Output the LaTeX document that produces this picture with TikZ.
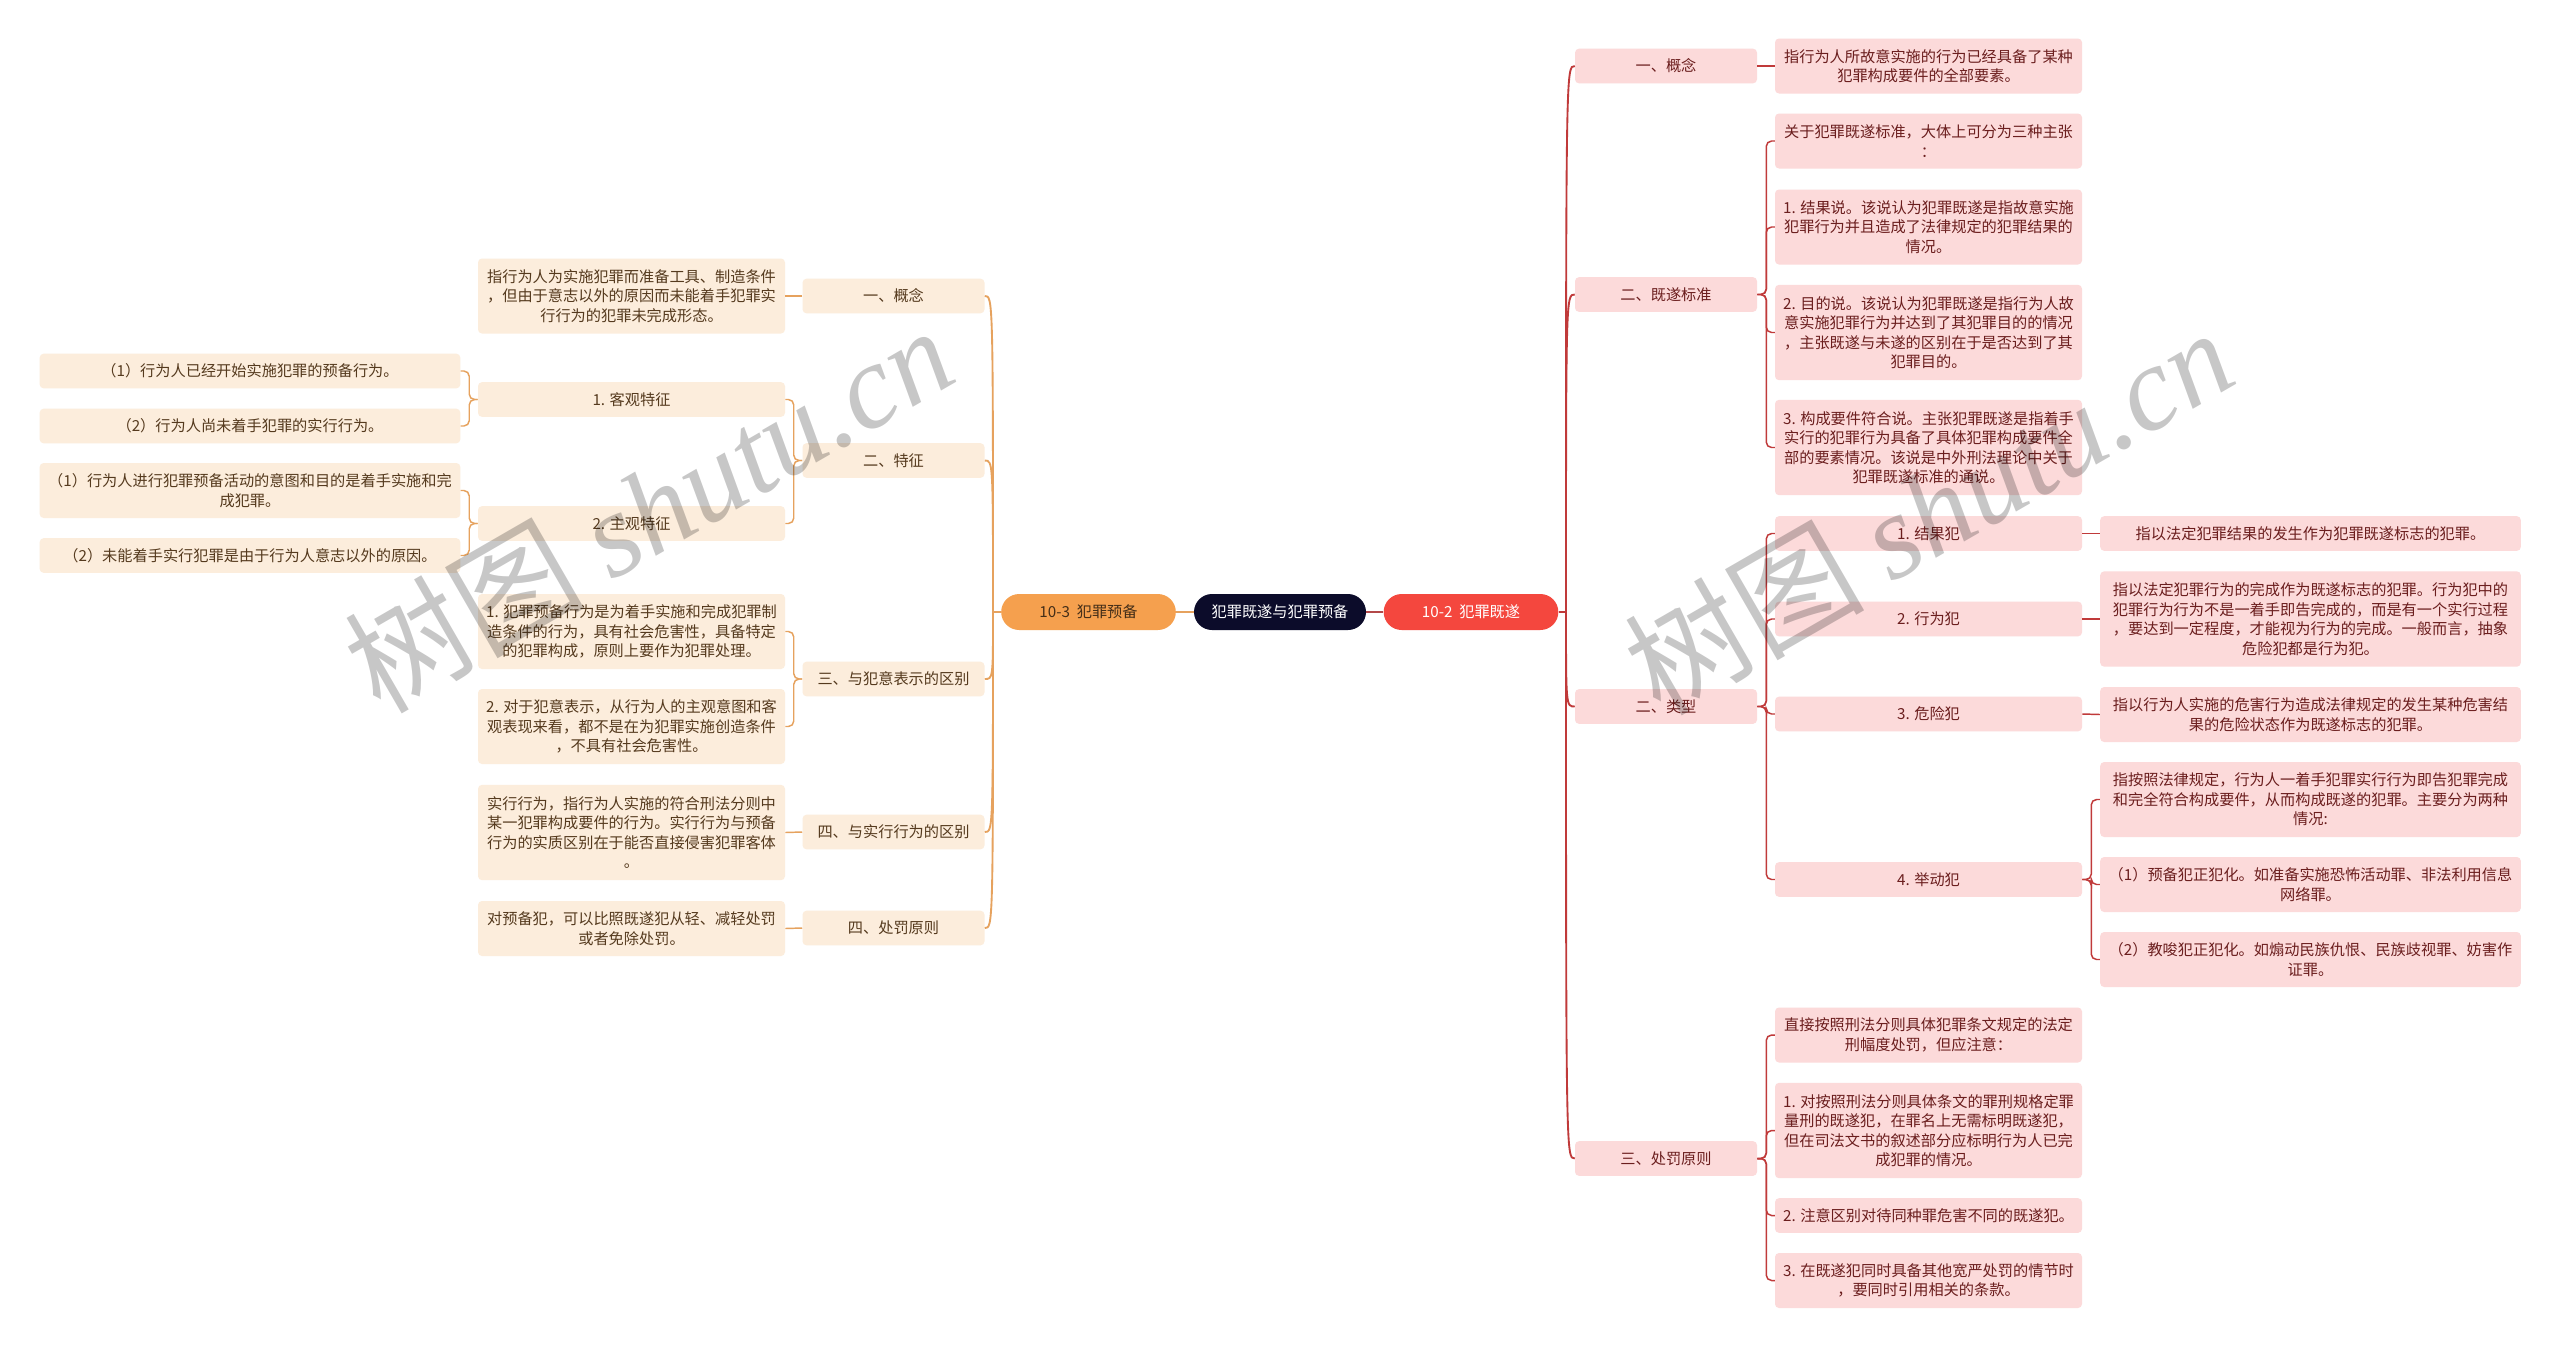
\documentclass[tikz,border=0pt]{standalone}
\usepackage{fontspec}
\setmainfont{Noto Sans CJK SC}
\newfontfamily\wmlatin{Liberation Serif}
\newfontfamily\wmcjk{Noto Sans CJK SC}
\newcommand\fs{\fontsize{11.4pt}{14.6pt}\selectfont}
\definecolor{lfill}{HTML}{FCEDDC}
\definecolor{ltext}{HTML}{553A1E}
\definecolor{lcol}{HTML}{E6A25E}
\definecolor{rfill}{HTML}{FCDADA}
\definecolor{rtext}{HTML}{6B1E1E}
\definecolor{rcol}{HTML}{C03A3A}
\definecolor{navy}{HTML}{0C0C2A}
\definecolor{orng}{HTML}{F5A04E}
\definecolor{redn}{HTML}{F4473E}
\tikzset{
  lbox/.style={fill=lfill, text=ltext, rounded corners=3pt, inner sep=0pt, align=center, font=\fs},
  rbox/.style={fill=rfill, text=rtext, rounded corners=3pt, inner sep=0pt, align=center, font=\fs},
  wa/.style={minimum width=136.5pt},
  wb/.style={minimum width=230.25pt},
  wc/.style={minimum width=315.5pt},
  ha/.style={minimum height=26pt},
  hb/.style={minimum height=41.25pt},
  hc/.style={minimum height=56.25pt},
  hd/.style={minimum height=71.5pt},
  pill/.style={rounded corners=13.5pt, minimum height=27pt, inner sep=0pt, align=center, font=\fs},
  ll/.style={draw=lcol, line width=1.1pt, rounded corners=4pt},
  rl/.style={draw=rcol, line width=1.1pt, rounded corners=4pt},
  lsp/.style={draw=lcol, line width=1.4pt},
  rsp/.style={draw=rcol, line width=1.4pt},
  wmark/.style={rotate=30, text=black, opacity=0.22, inner sep=0pt}
}
\newcommand\lbr[2]{\draw[ll] (#1.west) -- ++(-8.5,0) |- (#2.east);}
\newcommand\rbr[2]{\draw[rl] (#1.east) -- ++(9,0) |- (#2.west);}
\begin{document}
\begin{tikzpicture}[x=0.75pt,y=-0.75pt]
\useasboundingbox[fill=white] (0,0) rectangle (2560,1347);

% central
\node[pill, fill=navy, text=white, minimum width=129pt] (root) at (1280,612) {犯罪既遂与犯罪预备};
\node[pill, fill=orng, text=ltext!80!black, minimum width=131pt] (prep) at (1088.5,612) {10-3\ \ 犯罪预备};
\node[pill, fill=redn, text=white, minimum width=131pt] (acc) at (1471,612) {10-2\ \ 犯罪既遂};
\draw[draw=lcol, line width=1pt] (prep.east) -- (root.west);
\draw[draw=rcol!80!gray, line width=1pt] (root.east) -- (acc.west);

% ---------- left side ----------
\node[lbox, wa, ha] (LA) at (893.5,296) {一、概念};
\node[lbox, wa, ha] (LB) at (893.5,460.5) {二、特征};
\node[lbox, wa, ha] (LC) at (893.5,679) {三、与犯意表示的区别};
\node[lbox, wa, ha] (LD) at (893.5,832) {四、与实行行为的区别};
\node[lbox, wa, ha] (LE) at (893.5,928) {四、处罚原则};

\node[lbox, wb, hc] (LA1) at (631.5,296) {指行为人为实施犯罪而准备工具、制造条件\\，但由于意志以外的原因而未能着手犯罪实\\行行为的犯罪未完成形态。};
\node[lbox, wb, ha] (LB1) at (631.5,399.5) {1. 客观特征};
\node[lbox, wb, ha] (LB2) at (631.5,523.5) {2. 主观特征};
\node[lbox, wb, hc] (LC1) at (631.5,631.5) {1. 犯罪预备行为是为着手实施和完成犯罪制\\造条件的行为，具有社会危害性，具备特定\\的犯罪构成，原则上要作为犯罪处理。};
\node[lbox, wb, hc] (LC2) at (631.5,726.5) {2. 对于犯意表示，从行为人的主观意图和客\\观表现来看，都不是在为犯罪实施创造条件\\，不具有社会危害性。};
\node[lbox, wb, hd] (LD1) at (631.5,832.5) {实行行为，指行为人实施的符合刑法分则中\\某一犯罪构成要件的行为。实行行为与预备\\行为的实质区别在于能否直接侵害犯罪客体\\。};
\node[lbox, wb, hb] (LE1) at (631.5,928.5) {对预备犯，可以比照既遂犯从轻、减轻处罚\\或者免除处罚。};

\node[lbox, wc, ha] (LB1a) at (250,371) {（1）行为人已经开始实施犯罪的预备行为。};
\node[lbox, wc, ha] (LB1b) at (250,426) {（2）行为人尚未着手犯罪的实行行为。};
\node[lbox, wc, hb] (LB2a) at (250,490.5) {（1）行为人进行犯罪预备活动的意图和目的是着手实施和完\\成犯罪。};
\node[lbox, wc, ha] (LB2b) at (250,555.5) {（2）未能着手实行犯罪是由于行为人意志以外的原因。};

\coordinate (Lsp) at (993,612);
\draw[lsp] (prep.west) -- (Lsp);
\foreach \n in {LA,LB,LC,LD,LE}
  \draw[lsp] (Lsp) .. controls (Lsp |- \n.east) .. (\n.east);
\draw[ll] (LA.west) -- (LA1.east);
\lbr{LB}{LB1}
\lbr{LB}{LB2}
\lbr{LB1}{LB1a}
\lbr{LB1}{LB1b}
\lbr{LB2}{LB2a}
\lbr{LB2}{LB2b}
\lbr{LC}{LC1}
\lbr{LC}{LC2}
\draw[ll] (LD.west) -- (LD1.east);
\draw[ll] (LE.west) -- (LE1.east);

% ---------- right side ----------
\node[rbox, wa, ha] (RA) at (1666,66) {一、概念};
\node[rbox, wa, ha] (RB) at (1666,294.5) {二、既遂标准};
\node[rbox, wa, ha] (RC) at (1666,706.5) {二、类型};
\node[rbox, wa, ha] (RD) at (1666,1158.5) {三、处罚原则};

\node[rbox, wb, hb] (RA1) at (1928.5,66) {指行为人所故意实施的行为已经具备了某种\\犯罪构成要件的全部要素。};
\node[rbox, wb, hb] (RB1) at (1928.5,141) {关于犯罪既遂标准，大体上可分为三种主张\\：};
\node[rbox, wb, hc] (RB2) at (1928.5,227) {1. 结果说。该说认为犯罪既遂是指故意实施\\犯罪行为并且造成了法律规定的犯罪结果的\\情况。};
\node[rbox, wb, hd] (RB3) at (1928.5,332.5) {2. 目的说。该说认为犯罪既遂是指行为人故\\意实施犯罪行为并达到了其犯罪目的的情况\\，主张既遂与未遂的区别在于是否达到了其\\犯罪目的。};
\node[rbox, wb, hd] (RB4) at (1928.5,447.5) {3. 构成要件符合说。主张犯罪既遂是指着手\\实行的犯罪行为具备了具体犯罪构成要件全\\部的要素情况。该说是中外刑法理论中关于\\犯罪既遂标准的通说。};
\node[rbox, wb, ha] (RC1) at (1928.5,533.5) {1. 结果犯};
\node[rbox, wb, ha] (RC2) at (1928.5,619) {2. 行为犯};
\node[rbox, wb, ha] (RC3) at (1928.5,714) {3. 危险犯};
\node[rbox, wb, ha] (RC4) at (1928.5,879.5) {4. 举动犯};
\node[rbox, wb, hb] (RD1) at (1928.5,1035) {直接按照刑法分则具体犯罪条文规定的法定\\刑幅度处罚，但应注意：};
\node[rbox, wb, hd] (RD2) at (1928.5,1130.5) {1. 对按照刑法分则具体条文的罪刑规格定罪\\量刑的既遂犯，在罪名上无需标明既遂犯，\\但在司法文书的叙述部分应标明行为人已完\\成犯罪的情况。};
\node[rbox, wb, ha] (RD3) at (1928.5,1215.5) {2. 注意区别对待同种罪危害不同的既遂犯。};
\node[rbox, wb, hb] (RD4) at (1928.5,1280.5) {3. 在既遂犯同时具备其他宽严处罚的情节时\\，要同时引用相关的条款。};

\node[rbox, wc, ha] (RC1a) at (2310.5,533.5) {指以法定犯罪结果的发生作为犯罪既遂标志的犯罪。};
\node[rbox, wc, hd] (RC2a) at (2310.5,619) {指以法定犯罪行为的完成作为既遂标志的犯罪。行为犯中的\\犯罪行为行为不是一着手即告完成的，而是有一个实行过程\\，要达到一定程度，才能视为行为的完成。一般而言，抽象\\危险犯都是行为犯。};
\node[rbox, wc, hb] (RC3a) at (2310.5,714.5) {指以行为人实施的危害行为造成法律规定的发生某种危害结\\果的危险状态作为既遂标志的犯罪。};
\node[rbox, wc, hc] (RC4a) at (2310.5,799.5) {指按照法律规定，行为人一着手犯罪实行行为即告犯罪完成\\和完全符合构成要件，从而构成既遂的犯罪。主要分为两种\\情况:};
\node[rbox, wc, hb] (RC4b) at (2310.5,884.5) {（1）预备犯正犯化。如准备实施恐怖活动罪、非法利用信息\\网络罪。};
\node[rbox, wc, hb] (RC4c) at (2310.5,959.5) {（2）教唆犯正犯化。如煽动民族仇恨、民族歧视罪、妨害作\\证罪。};

\coordinate (Rsp) at (1566,612);
\draw[rsp] (acc.east) -- (Rsp);
\foreach \n in {RA,RB,RC,RD}
  \draw[rsp] (Rsp) .. controls (Rsp |- \n.west) .. (\n.west);
\draw[rl] (RA.east) -- (RA1.west);
\rbr{RB}{RB1}
\rbr{RB}{RB2}
\rbr{RB}{RB3}
\rbr{RB}{RB4}
\rbr{RC}{RC1}
\rbr{RC}{RC2}
\rbr{RC}{RC3}
\rbr{RC}{RC4}
\draw[rl] (RC1.east) -- (RC1a.west);
\draw[rl] (RC2.east) -- (RC2a.west);
\draw[rl] (RC3.east) -- (RC3a.west);
\rbr{RC4}{RC4a}
\rbr{RC4}{RC4b}
\rbr{RC4}{RC4c}
\rbr{RD}{RD1}
\rbr{RD}{RD2}
\rbr{RD}{RD3}
\rbr{RD}{RD4}

% watermarks
\node[wmark] (wm1) at (648,508) {\fontsize{90pt}{90pt}\selectfont\wmcjk 树图\ {\wmlatin\itshape shutu.cn}};
\node[wmark] (wm2) at (1928,510) {\fontsize{90pt}{90pt}\selectfont\wmcjk 树图\ {\wmlatin\itshape shutu.cn}};
\end{tikzpicture}
\end{document}
